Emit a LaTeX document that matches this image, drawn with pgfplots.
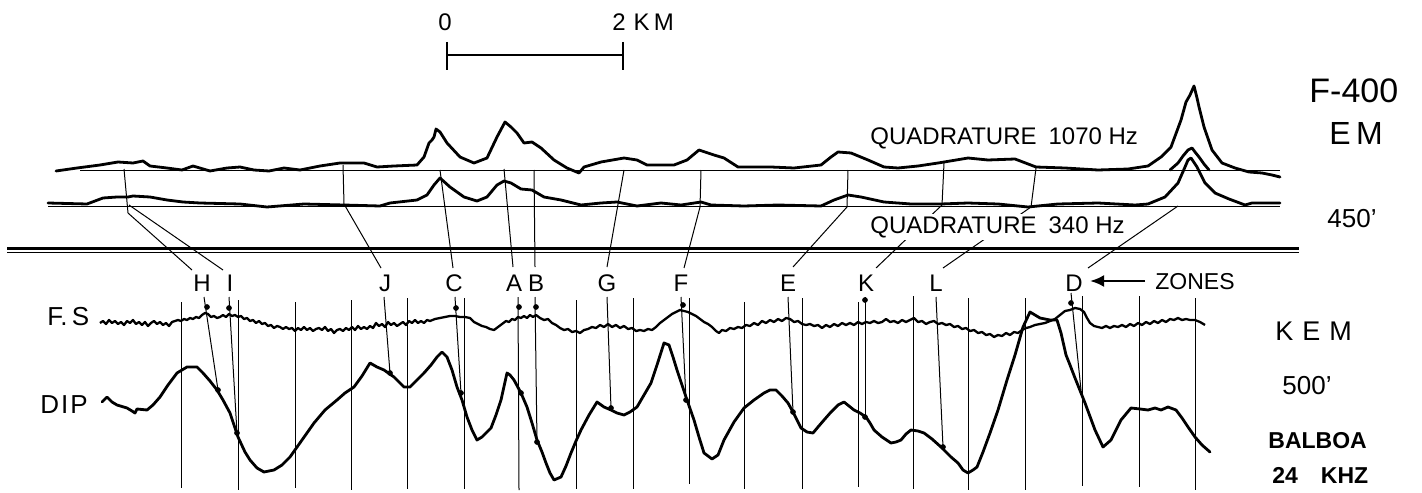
\documentclass[border=0pt]{standalone}
\usepackage{fontspec}
\setmainfont{Liberation Sans}
\usepackage{pgfplots}
\pgfplotsset{compat=1.18}
\usetikzlibrary{arrows.meta}

\begin{document}
\begin{tikzpicture}[
	cv/.style={black, line width=1.4pt, line join=round, line cap=round},
	tl/.style={black, line width=0.5pt},
	lab/.style={font=\fontsize{#1}{#1}\selectfont, inner sep=1pt},
	labb/.style={font=\fontsize{#1}{#1}\selectfont\bfseries, inner sep=1pt},
]
\begin{axis}[
	scale only axis, width=711pt, height=246pt,
	xmin=0, xmax=1422, ymin=0, ymax=492, y dir=reverse,
	hide axis, clip=false,
]
% frame keeper
\addplot[draw=none] coordinates {(0,0) (1422,492)};

%% scale bar
\addplot[black, line width=1.2pt] coordinates {(447,55) (623,55)};
\addplot[black, line width=1.2pt] coordinates {(447,42) (447,70)};
\addplot[black, line width=1.2pt] coordinates {(623,42) (623,70)};

%% baselines, F-400 EM
\addplot[tl] coordinates {(80,170) (1280,170)};
\addplot[tl] coordinates {(48,206) (1280,206)};
\addplot[black, line width=1.1pt] coordinates {(7,248.5) (1299,248.5)};
\addplot[black, line width=0.8pt] coordinates {(7,252.5) (1299,252.5)};

%% quadrature 1070 Hz
\addplot[cv] coordinates {
(56,171)(77,168)(100,165)(118,162)(133,163)(143,161)(150,166)(167,168)(182,170)(193,166)
(210,171)(227,168)(240,167)(254,170)(269,171)(284,168)(300,170)(320,166)(340,163)(364,163)
(377,167)(394,166)(417,165)(424,157)(429,143)(432,140)(434,137)(436,129)(440,132)(447,143)
(460,157)(474,163)(487,158)(497,137)(505,122)(511,127)(517,133)(524,143)(532,142)(541,148)
(554,160)(567,168)(579,173)(584,167)(601,162)(624,158)(637,160)(647,165)(674,165)(687,160)
(699,150)(714,155)(724,158)(738,167)(771,167)(794,168)(821,165)(831,157)(838,152)(851,153)
(868,160)(884,167)(898,168)(918,166)(938,163)(968,158)(988,160)(1015,159)(1036,167)(1065,168)
(1098,170)(1128,169)(1148,166)(1161,157)(1171,147)(1181,120)(1186,102)(1190,95)(1194,86)
(1197,98)(1199,107)(1204,127)(1212,150)(1222,163)(1235,168)(1249,172)(1262,173)(1272,175)(1280,177)
};
%% secondary peak on 1070 baseline
\addplot[cv] coordinates {
(1170,170)(1178,163)(1183,156)(1188,150)(1192,148)(1195,152)(1199,157)(1204,164)(1209,170)
};
%% quadrature 340 Hz
\addplot[cv] coordinates {
(48,203)(87,204)(103,198)(117,197)(128,197)(133,196)(150,197)(167,200)(183,202)(200,203)
(240,204)(267,207)(304,204)(344,205)(380,206)(390,203)(417,200)(427,195)(434,185)(440,178)
(450,187)(464,197)(477,201)(487,197)(497,185)(504,181)(511,183)(521,189)(532,190)(544,197)
(561,200)(581,205)(601,203)(617,202)(637,206)(661,203)(681,205)(701,202)(711,205)(744,206)
(778,205)(821,206)(834,200)(848,195)(861,197)(884,202)(911,204)(941,204)(968,203)(998,204)
(1028,207)(1058,204)(1098,203)(1135,205)(1148,204)(1165,197)(1178,183)(1185,167)(1188,160)
(1191,158)(1197,167)(1205,183)(1215,193)(1229,199)(1245,205)(1252,203)(1280,203)
};

%% zone lines, upper part
\addplot[tl] coordinates {(124,169) (128,213) (192,270)};
\addplot[tl] coordinates {(129,205) (223,270)};
\addplot[tl] coordinates {(343,165) (344,204) (381,268)};
\addplot[tl] coordinates {(440,170) (453,268)};
\addplot[tl] coordinates {(504,169) (513,267)};
\addplot[tl] coordinates {(534,170) (535,267)};
\addplot[tl] coordinates {(624,170) (607,267)};
\addplot[tl] coordinates {(701,170) (700,207) (684,268)};
\addplot[tl] coordinates {(848,170) (847,207) (793,267)};
\addplot[tl] coordinates {(944,163) (942,205) (876,268)};
\addplot[tl] coordinates {(1036,168) (1031,207) (943,268)};
\addplot[tl] coordinates {(1178,206) (1088,268)};

%% vertical grid, KEM
\addplot[tl] coordinates {(181,302) (181,488)};
\addplot[tl] coordinates {(238,300) (238,490)};
\addplot[tl] coordinates {(295,302) (295,488)};
\addplot[tl] coordinates {(351,300) (351,490)};
\addplot[tl] coordinates {(407,298) (407,489)};
\addplot[tl] coordinates {(464,298) (464,489)};
\addplot[tl] coordinates {(576,300) (576,489)};
\addplot[tl] coordinates {(633,298) (633,489)};
\addplot[tl] coordinates {(689,298) (689,484)};
\addplot[tl] coordinates {(744,302) (744,489)};
\addplot[tl] coordinates {(802,298) (802,489)};
\addplot[tl] coordinates {(858,302) (858,487)};
\addplot[tl] coordinates {(913,296) (913,489)};
\addplot[tl] coordinates {(968,298) (968,490)};
\addplot[tl] coordinates {(1025,298) (1025,490)};
\addplot[tl] coordinates {(1082,296) (1082,486)};
\addplot[tl] coordinates {(1139,296) (1139,487)};
\addplot[tl] coordinates {(1195,298) (1195,490)};

%% zone lines, lower part
\addplot[tl] coordinates {(204,297) (218,390)};
\addplot[tl] coordinates {(229,297) (237,433)};
\addplot[tl] coordinates {(384,297) (390,373)};
\addplot[tl] coordinates {(455,297) (461,393)};
\addplot[tl] coordinates {(518,297) (519,490)};
\addplot[tl] coordinates {(535,297) (537,442)};
\addplot[tl] coordinates {(607,297) (611,408)};
\addplot[tl] coordinates {(681,297) (686,400)};
\addplot[tl] coordinates {(788,297) (793,412)};
\addplot[tl] coordinates {(865,297) (865,417)};
\addplot[tl] coordinates {(936,297) (943,447)};
\addplot[tl] coordinates {(1071,293) (1081,390)};

%% F.S
\addplot[black, line width=1.15pt, line join=round] coordinates {
(100,323)(103,321)(106,324)(109,320)(112,323)(115,321)(118,324)(121,322)(124,325)(127,321)
(130,323)(133,320)(136,324)(139,322)(142,325)(145,322)(148,326)(151,323)(154,321)(157,324)
(160,322)(163,325)(166,323)(169,326)(172,322)(175,321)(178,320)(181,321)(184,319)(187,320)
(190,318)(193,319)(196,317)(199,318)(202,315)(205,313)(208,314)(211,317)(214,316)(217,318)
(220,317)(223,315)(226,317)(229,314)(232,316)(235,315)(238,317)(241,316)(244,319)(247,318)
(250,321)(253,320)(256,323)(259,321)(262,324)(265,323)(268,326)(271,325)(274,328)(277,326)
(280,327)(283,329)(286,327)(289,329)(292,328)(295,331)(298,328)(301,330)(304,327)(307,330)
(310,328)(313,331)(316,329)(319,328)(322,330)(325,327)(328,331)(331,329)(334,333)(337,330)
(340,329)(343,331)(346,328)(349,330)(352,327)(355,330)(358,326)(361,329)(364,327)(367,329)
(370,326)(373,328)(376,323)(379,326)(382,324)(385,327)(388,322)(391,325)(394,323)(397,326)
(400,324)(403,322)(406,325)(409,321)(412,323)(415,320)(418,323)(421,321)(424,323)(427,320)
(430,321)(435,319)(440,318)(445,317)(450,316)(455,316)(460,317)(465,317)(470,318)(474,322)
(478,324)(482,326)(486,327)(490,329)(494,330)(498,327)(502,324)(506,321)(509,322)(512,319)
(515,320)(518,317)(521,318)(524,316)(527,318)(530,315)(533,317)(536,315)(540,318)(544,320)
(548,319)(552,323)(556,325)(560,328)(564,330)(568,329)(572,332)(576,331)(580,333)(584,330)
(588,329)(592,327)(596,328)(600,325)(604,327)(608,324)(612,327)(616,325)(620,328)(624,326)
(628,329)(632,328)(636,331)(640,330)(644,331)(648,329)(652,330)(656,327)(660,323)(664,320)
(668,317)(672,314)(676,312)(680,310)(684,311)(688,312)(692,314)(696,316)(700,319)(704,322)
(708,324)(712,327)(716,331)(719,333)(722,330)(726,331)(730,328)(734,329)(738,327)(742,328)
(746,325)(750,326)(754,323)(758,325)(762,321)(766,323)(770,320)(774,322)(778,319)(782,321)
(786,318)(790,319)(794,322)(798,321)(802,324)(806,325)(810,324)(814,326)(818,325)(822,328)
(826,325)(830,327)(834,324)(838,326)(842,323)(846,325)(850,323)(854,325)(858,322)(862,324)
(866,322)(870,323)(874,321)(878,323)(882,322)(886,319)(890,322)(894,321)(898,323)(902,320)
(906,322)(910,320)(914,318)(918,322)(922,321)(926,324)(930,322)(934,321)(938,324)(942,323)
(946,325)(950,324)(954,327)(958,326)(962,329)(966,328)(970,331)(974,330)(978,333)(982,332)
(986,335)(990,334)(994,337)(998,335)(1002,336)(1006,333)(1010,335)(1014,332)(1018,333)(1022,330)
(1026,328)(1030,327)(1035,325)(1040,324)(1045,323)(1050,321)(1055,319)(1060,315)(1065,311)(1070,310)
(1075,308)(1080,309)(1084,312)(1087,318)(1090,323)(1094,326)(1098,327)(1102,328)(1106,326)(1110,328)
(1114,326)(1118,327)(1122,325)(1126,327)(1130,324)(1134,326)(1138,323)(1142,325)(1146,322)(1150,324)
(1154,321)(1158,323)(1162,320)(1166,322)(1170,319)(1174,320)(1178,318)(1182,320)(1186,319)(1190,320)
(1195,320)(1200,322)(1205,325)
};
%% DIP
\addplot[cv] coordinates {
(102,402)(107,397)(112,402)(117,405)(127,408)(132,411)(135,413)(137,409)(147,410)(153,405)
(160,397)(168,385)(177,373)(187,367)(197,367)(203,373)(210,381)(217,390)(223,400)(230,413)
(238,437)(245,452)(250,460)(257,468)(264,472)(274,470)(282,465)(290,457)(302,440)(314,423)
(325,410)(337,400)(345,393)(354,387)(362,376)(370,363)(377,367)(384,370)(394,377)(404,387)
(410,387)(417,380)(424,373)(431,365)(437,357)(442,352)(447,357)(452,370)(457,387)(462,400)
(467,417)(472,430)(477,440)(482,437)(491,428)(496,415)(501,400)(507,373)(510,375)(514,380)
(521,393)(527,407)(532,423)(537,440)(542,452)(546,463)(550,473)(554,480)(561,477)(566,466)
(571,453)(576,441)(581,430)(589,415)(597,402)(604,407)(611,410)(617,413)(624,415)(630,412)
(637,407)(644,395)(651,383)(657,365)(664,343)(669,345)(673,357)(677,370)(682,385)(687,400)
(694,420)(699,437)(704,453)(712,459)(718,455)(724,440)(734,422)(744,408)(754,400)(764,393)
(770,390)(776,390)(782,396)(788,403)(793,412)(797,420)(801,428)(807,432)(813,433)(818,427)
(824,420)(831,412)(838,405)(844,402)(849,406)(854,410)(860,413)(866,417)(870,423)(874,430)
(882,437)(891,443)(896,442)(901,440)(906,434)(911,430)(918,431)(924,433)(932,439)(941,447)
(951,457)(958,463)(963,470)(968,473)(973,470)(977,467)(983,452)(990,433)(998,410)(1007,380)
(1015,355)(1023,327)(1030,312)(1040,318)(1050,320)(1057,320)(1061,333)(1066,355)(1070,365)
(1075,378)(1085,403)(1095,430)(1103,447)(1111,440)(1121,420)(1131,408)(1140,409)(1148,410)
(1155,408)(1161,410)(1168,407)(1176,410)(1182,418)(1188,427)(1195,437)(1202,445)(1210,452)
};
%% marks where zones meet the profiles
\addplot[only marks, mark=*, mark size=1.2pt, black] coordinates {
(207,307)(229,308)(456,308)(519,307)(536,307)(683,305)(1071,303)(865,300)
(218,390)(237,433)(390,373)(461,393)(521,393)(537,442)(611,408)(686,400)(793,412)(865,417)(943,447)
};
%% arrow to zones
\addplot[black, line width=1.3pt, -{Latex[length=7pt,width=6pt]}] coordinates {(1145,281) (1090,281)};

%% texts
\node[lab=12] at (445,22) {0};
\node[lab=12, anchor=west] at (610,22) {2\,\,K\,M};
\node[lab=12, anchor=west, fill=white] at (868,138) {QUADRATURE\,\,\,1070 Hz};
\node[lab=12, anchor=west, fill=white] at (868,227) {QUADRATURE\,\,\,340 Hz};
\node[lab=17, anchor=west] at (1307,91) {F-400};
\node[lab=16, anchor=west] at (1327,133) {E\,M};
\node[lab=13, anchor=west] at (1325,219) {450'};
\node[lab=13.5, anchor=west] at (1273,331) {K\,\,E\,\,M};
\node[lab=13, anchor=west] at (1280,386) {500'};
\node[labb=11.5, anchor=west] at (1266,441) {BALBOA};
\node[labb=11.5, anchor=west] at (1270,475) {24\quad KHZ};
\node[lab=13, anchor=west] at (45,317) {F.\,S};
\node[lab=13, anchor=west] at (38,405) {D\kern1pt I\kern1pt P};
\node[lab=12] at (202,283) {H};
\node[lab=12] at (230,283) {I};
\node[lab=12] at (385,283) {J};
\node[lab=12] at (454,283) {C};
\node[lab=12] at (514,283) {A};
\node[lab=12] at (536,283) {B};
\node[lab=12] at (607,283) {G};
\node[lab=12] at (681,283) {F};
\node[lab=12] at (788,283) {E};
\node[lab=12] at (866,283) {K};
\node[lab=12] at (936,283) {L};
\node[lab=12] at (1074,283) {D};
\node[lab=11.5, anchor=west] at (1153,282) {ZONES};
\end{axis}
\end{tikzpicture}
\end{document}
